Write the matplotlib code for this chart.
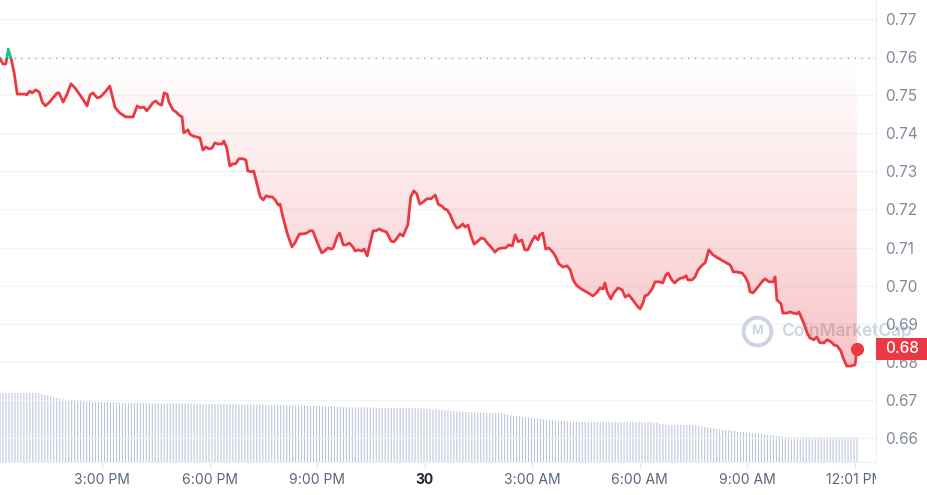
import numpy as np
import matplotlib
matplotlib.use('Agg')
import matplotlib.pyplot as plt
from matplotlib.patches import Rectangle
from matplotlib.transforms import blended_transform_factory

plt.rcParams['font.family'] = ['Inter', 'DejaVu Sans']

RED = '#ea3943'
GREEN = '#16c784'
AXIS_GRAY = '#808a9d'

# minutes since 12:00 PM on the 29th
price_times = [
    9, 14, 19, 23, 28, 33, 38, 46, 51, 54,
    59, 63, 69, 75, 80, 85, 91, 98, 105, 108,
    115, 121, 128, 135, 143, 152, 155, 160, 165, 172,
    177, 185, 193, 202, 210, 220, 232, 239, 244, 250,
    255, 260, 265, 270, 275, 280, 284, 289, 292, 299,
    304, 309, 314, 317, 324, 327, 332, 339, 344, 349,
    354, 359, 364, 369, 374, 381, 384, 389, 394, 399,
    404, 409, 416, 421, 424, 431, 434, 440, 445, 450,
    455, 460, 465, 470, 475, 478, 483, 490, 498, 503,
    508, 511, 517, 523, 528, 533, 540, 548, 553, 558,
    565, 568, 574, 578, 584, 589, 594, 600, 604, 609,
    615, 619, 624, 629, 634, 639, 644, 650, 656, 659,
    664, 669, 674, 679, 684, 689, 692, 697, 702, 707,
    712, 718, 724, 731, 738, 743, 749, 754, 758, 763,
    768, 774, 779, 784, 788, 793, 798, 803, 808, 815,
    820, 825, 831, 838, 843, 850, 856, 861, 867, 872,
    877, 883, 888, 893, 900, 905, 910, 913, 918, 923,
    928, 935, 940, 945, 952, 959, 964, 969, 974, 980,
    985, 992, 999, 1002, 1009, 1014, 1019, 1022, 1026, 1032,
    1037, 1044, 1051, 1056, 1062, 1069, 1076, 1081, 1086, 1089,
    1094, 1101, 1106, 1114, 1119, 1124, 1128, 1134, 1139, 1144,
    1149, 1153, 1158, 1161, 1168, 1173, 1178, 1185, 1190, 1196,
    1203, 1211, 1220, 1226, 1232, 1237, 1243, 1252, 1257, 1262,
    1265, 1270, 1277, 1285, 1290, 1297, 1304, 1307, 1310, 1317,
    1320, 1327, 1332, 1337, 1344, 1347, 1354, 1360, 1365, 1372,
    1377, 1382, 1389, 1394, 1401, 1406, 1411, 1417, 1421, 1427,
    1434, 1441, 1444,
]

prices = [
    .7597, .7582, .7582, .7621, .7595, .7558, .7503, .7503, .7503, .7501,
    .7511, .7506, .7514, .7508, .7482, .7472, .7480, .7493, .7506, .7506,
    .7482, .7501, .7530, .7519, .7501, .7480, .7472, .7501, .7506, .7493,
    .7495, .7508, .7524, .7467, .7453, .7443, .7443, .7472, .7467, .7469,
    .7459, .7469, .7480, .7485, .7477, .7474, .7506, .7503, .7482, .7461,
    .7456, .7448, .7443, .7401, .7409, .7398, .7393, .7390, .7388, .7356,
    .7364, .7359, .7361, .7375, .7372, .7372, .7380, .7361, .7314, .7320,
    .7320, .7333, .7333, .7330, .7301, .7299, .7301, .7264, .7233, .7225,
    .7236, .7233, .7233, .7225, .7212, .7214, .7180, .7138, .7102, .7112,
    .7128, .7136, .7136, .7138, .7144, .7144, .7115, .7086, .7091, .7099,
    .7096, .7102, .7130, .7138, .7107, .7107, .7112, .7102, .7091, .7094,
    .7091, .7096, .7078, .7112, .7144, .7144, .7149, .7144, .7141, .7133,
    .7117, .7115, .7125, .7136, .7130, .7149, .7159, .7233, .7249, .7241,
    .7214, .7220, .7228, .7228, .7238, .7214, .7209, .7201, .7199, .7186,
    .7167, .7151, .7154, .7162, .7154, .7159, .7130, .7109, .7115, .7125,
    .7123, .7112, .7102, .7088, .7096, .7099, .7099, .7107, .7104, .7133,
    .7115, .7120, .7094, .7094, .7117, .7130, .7120, .7133, .7138, .7096,
    .7099, .7088, .7075, .7057, .7049, .7052, .7041, .7015, .7002, .6994,
    .6989, .6983, .6976, .6973, .6983, .6994, .6991, .7007, .6983, .6965,
    .6981, .6994, .6989, .6970, .6976, .6962, .6947, .6939, .6955, .6973,
    .6976, .6991, .7010, .7010, .7007, .7028, .7033, .7015, .7007, .7015,
    .7020, .7020, .7026, .7015, .7015, .7023, .7041, .7054, .7060, .7094,
    .7081, .7073, .7065, .7060, .7054, .7036, .7036, .7033, .7023, .7007,
    .6984, .6981, .6994, .7010, .7018, .7010, .7010, .7023, .6963, .6952,
    .6928, .6928, .6931, .6928, .6926, .6931, .6905, .6879, .6863, .6858,
    .6865, .6850, .6850, .6858, .6852, .6844, .6842, .6829, .6810, .6789,
    .6789, .6792, .6834,
]

# rolling 24h volume (millions), one bar every 5 minutes
volume = [
    13.8, 13.8, 13.8, 13.8, 13.8, 13.8, 13.8, 13.8, 13.8, 13.8, 13.8, 13.8,
    13.8, 13.8, 13.5, 13.4, 13.3, 13.1, 13.0, 12.8, 12.7, 12.6, 12.5, 12.4,
    12.3, 12.2, 12.2, 12.2, 12.1, 12.1, 12.1, 12.0, 12.0, 12.0, 12.0, 12.0,
    12.0, 11.9, 11.9, 11.9, 11.9, 11.9, 11.8, 11.8, 11.8, 11.8, 11.8, 11.8,
    11.8, 11.8, 11.8, 11.7, 11.7, 11.7, 11.7, 11.7, 11.7, 11.7, 11.7, 11.7,
    11.7, 11.7, 11.7, 11.7, 11.7, 11.7, 11.6, 11.6, 11.6, 11.6, 11.6, 11.6,
    11.6, 11.6, 11.6, 11.6, 11.6, 11.6, 11.6, 11.6, 11.5, 11.5, 11.5, 11.5,
    11.5, 11.5, 11.5, 11.5, 11.5, 11.4, 11.4, 11.4, 11.4, 11.4, 11.4, 11.4,
    11.4, 11.4, 11.4, 11.3, 11.3, 11.3, 11.3, 11.3, 11.2, 11.2, 11.2, 11.2,
    11.2, 11.1, 11.1, 11.1, 11.1, 11.0, 11.0, 11.0, 11.0, 10.9, 10.9, 10.9,
    10.9, 10.9, 10.9, 10.9, 10.9, 10.9, 10.8, 10.8, 10.8, 10.8, 10.8, 10.8,
    10.8, 10.8, 10.8, 10.8, 10.8, 10.8, 10.8, 10.8, 10.8, 10.7, 10.7, 10.6,
    10.6, 10.5, 10.5, 10.4, 10.4, 10.3, 10.3, 10.2, 10.2, 10.1, 10.1, 10.0,
    10.0, 10.0, 9.9, 9.9, 9.9, 9.9, 9.8, 9.8, 9.8, 9.8, 9.8, 9.8,
    9.7, 9.6, 9.5, 9.4, 9.3, 9.2, 9.1, 9.0, 8.9, 8.9, 8.8, 8.7,
    8.7, 8.6, 8.5, 8.5, 8.4, 8.4, 8.3, 8.3, 8.2, 8.2, 8.1, 8.1,
    8.1, 8.1, 8.0, 8.0, 8.0, 8.0, 8.0, 8.0, 8.0, 8.0, 8.0, 8.0,
    8.0, 8.0, 8.0, 8.0, 8.0, 8.0, 8.0, 8.0, 8.0, 8.0, 8.0, 8.0,
    8.0, 8.0, 8.0, 7.9, 7.8, 7.6, 7.5, 7.5, 7.4, 7.4, 7.4, 7.4,
    7.4, 7.4, 7.4, 7.4, 7.4, 7.3, 7.2, 7.1, 7.0, 6.9, 6.8, 6.7,
    6.6, 6.5, 6.4, 6.3, 6.3, 6.2, 6.2, 6.1, 6.0, 6.0, 5.9, 5.9,
    5.8, 5.8, 5.7, 5.6, 5.5, 5.4, 5.4, 5.3, 5.2, 5.2, 5.1, 5.0,
    5.0, 5.0, 5.0, 5.0, 5.0, 5.0, 5.0, 5.0, 5.0, 5.0, 5.0, 5.0,
    5.0, 5.0, 5.0, 5.0, 5.0, 5.0, 5.0, 5.0, 5.0, 5.0, 5.0, 5.0,
]
volume_start = 9.2  # minutes, first bar
volume_step = 5

y_ticks = [0.66, 0.67, 0.68, 0.69, 0.70, 0.71, 0.72, 0.73, 0.74, 0.75, 0.76, 0.77]
x_ticks = [180, 360, 540, 720, 900, 1080, 1260, 1441]
x_labels = ['3:00 PM', '6:00 PM', '9:00 PM', '30', '3:00 AM', '6:00 AM', '9:00 AM', '12:01 PM']

baseline = prices[0]

fig = plt.figure(figsize=(9.28, 4.95), dpi=100)
ax = fig.add_axes([0, 33 / 495, 876 / 928, 462 / 495])
ax2 = ax.twinx()

# volume bars underneath
vol_t = volume_start + volume_step * np.arange(len(volume))
ax2.bar(vol_t, volume, width=1.8, color='#bcc5d9', linewidth=0, snap=False)
ax2.set_ylim(0, 92.4)
ax2.set_yticks([])
for s in ax2.spines.values():
    s.set_visible(False)
ax.set_zorder(ax2.get_zorder() + 1)
ax.patch.set_visible(False)

ax.set_xlim(9.2, 1476)
ax.set_ylim(0.6537, 0.775)

for yv in y_ticks:
    ax.axhline(yv, color='#f1f3f6', lw=1, zorder=0)
ax.axhline(baseline, color='#a3acbd', lw=1, ls=(0, (1, 4)), zorder=1)

# gradient fill between price and opening price
t = np.array(price_times, dtype=float)
p = np.array(prices)
poly = ax.fill_between(t, p, baseline, color='none', lw=0)
clip = poly.get_paths()[0]
grad = np.zeros((256, 1, 4))
grad[..., :3] = matplotlib.colors.to_rgb(RED)
grad[:, 0, 3] = np.linspace(0.0, 0.3, 256)
im = ax.imshow(grad, extent=[t[0], t[-1], p.min(), baseline], aspect='auto',
               origin='upper', interpolation='bilinear', zorder=2)
im.set_clip_path(clip, ax.transData)
ax.fill_between(t, p, baseline, where=p > baseline, interpolate=True,
                color=GREEN, alpha=0.12, lw=0, zorder=2)

# watermark
wm = '#cdd4e1'
ax.plot(757 / 876, 131 / 462, marker='o', ms=20, mfc='none', mec=wm, mew=2.8,
        transform=ax.transAxes, clip_on=False, zorder=1)
ax.text(757 / 876, 131 / 462, 'M', color=wm, fontsize=9, fontweight='bold',
        ha='center', va='center', transform=ax.transAxes, zorder=1)
ax.text(781 / 876, 131 / 462, 'CoinMarketCap', color=wm, fontsize=12.5,
        fontweight='semibold', ha='left', va='center', transform=ax.transAxes,
        clip_on=False, zorder=1)

# price line, red below the opening price, green above
below = Rectangle((-1000, 0.0), 5000, baseline, transform=ax.transData)
above = Rectangle((-1000, baseline), 5000, 1.0, transform=ax.transData)
red_line, = ax.plot(t, p, color=RED, lw=2.0, zorder=4, solid_joinstyle='round')
red_line.set_clip_path(below)
green_line, = ax.plot(t, p, color=GREEN, lw=2.0, zorder=4, solid_joinstyle='round')
green_line.set_clip_path(above)
ax.plot(t[-1], p[-1], 'o', color=RED, ms=8.5, zorder=5)

# axes styling
for side in ('top', 'left'):
    ax.spines[side].set_visible(False)
ax.spines['right'].set_color('#eceff3')
ax.spines['bottom'].set_color('#eceff3')

ax.yaxis.tick_right()
ax.set_yticks(y_ticks)
ax.set_yticklabels([f'{v:.2f}' for v in y_ticks])
ax.tick_params(axis='y', length=0, pad=6.5, labelsize=11, labelcolor=AXIS_GRAY)

ax.set_xticks(x_ticks)
ax.set_xticklabels(x_labels)
ax.tick_params(axis='x', length=4, width=1, color='#e2e6ec', pad=4,
               labelsize=10, labelcolor='#58667e')
labels = ax.get_xticklabels()
labels[3].set_fontweight('bold')
labels[3].set_color('#222531')
edge_clip = Rectangle((0, 0), 876 / 928, 1, transform=fig.transFigure)
labels[-1].set_clip_path(edge_clip)

# current price tag
trans = blended_transform_factory(ax.transAxes, ax.transData)
tag_h = 0.00578
ax.add_patch(Rectangle((1.0, p[-1] - tag_h / 2), 52 / 876, tag_h, transform=trans,
                       facecolor=RED, edgecolor='none', clip_on=False, zorder=10))
ax.text(1.0 + 26 / 876, p[-1], f'{p[-1]:.2f}', transform=trans, color='white',
        fontsize=11, fontweight='medium', ha='center', va='center', zorder=11,
        clip_on=False)

fig.savefig('out.png', dpi=100, facecolor='white')
